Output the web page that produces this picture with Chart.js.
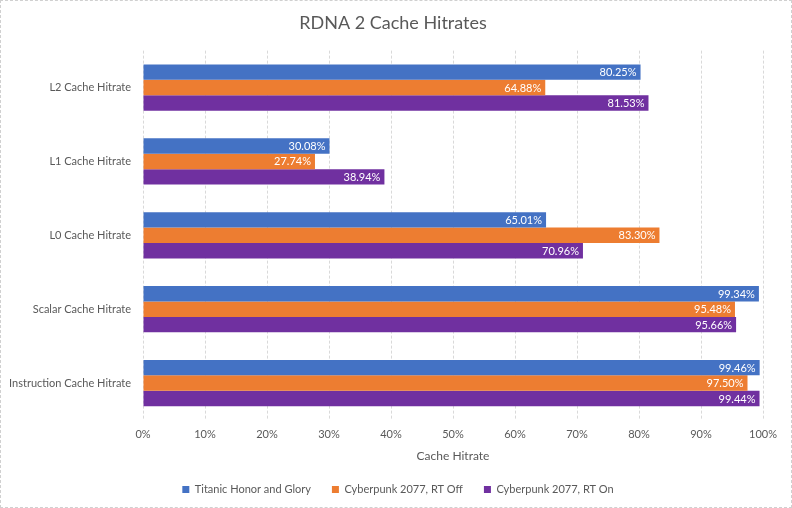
<!DOCTYPE html>
<html>
<head>
<meta charset="utf-8">
<script src="https://cdn.jsdelivr.net/npm/chart.js@4/dist/chart.umd.min.js"></script>
<style>
  html, body { margin: 0; padding: 0; background: #fff; }
  #wrap { width: 792px; height: 508px; box-sizing: border-box; border: 1px dashed #d0d0d0; position: relative; }
</style>
</head>
<body>
<div id="wrap"><canvas id="cacheChart"></canvas></div>
<script>
// Categories and series values (percent)
const categories = ["L2 Cache Hitrate", "L1 Cache Hitrate", "L0 Cache Hitrate", "Scalar Cache Hitrate", "Instruction Cache Hitrate"];
const titanicValues = [80.25, 30.08, 65.01, 99.34, 99.46];
const rtOffValues = [64.88, 27.74, 83.30, 95.48, 97.50];
const rtOnValues = [81.53, 38.94, 70.96, 95.66, 99.44];
const seriesNames = ["Titanic Honor and Glory", "Cyberpunk 2077, RT Off", "Cyberpunk 2077, RT On"];
const xTicks = [0, 10, 20, 30, 40, 50, 60, 70, 80, 90, 100];

const textColor = "#595959";
const fontFamily = "Lato, 'Open Sans', sans-serif";

// Simple plugin to print white value labels at the inner end of each bar
const barLabels = {
  id: "barLabels",
  afterDatasetsDraw(chart) {
    const ctx = chart.ctx;
    ctx.save();
    ctx.font = "11px " + fontFamily;
    ctx.fillStyle = "#ffffff";
    ctx.textAlign = "right";
    ctx.textBaseline = "middle";
    chart.data.datasets.forEach((ds, i) => {
      const meta = chart.getDatasetMeta(i);
      meta.data.forEach((bar, j) => {
        ctx.fillText(ds.data[j].toFixed(2) + "%", bar.x - 4, bar.y + 0.5);
      });
    });
    ctx.restore();
  }
};

// Nudge title and legend to be centred over the whole picture like the original
const centreBoxes = {
  id: "centreBoxes",
  afterLayout(chart) {
    if (chart.titleBlock) { chart.titleBlock.left += 11; chart.titleBlock.right += 11; }
    if (chart.legend) { chart.legend.left += 16; chart.legend.right += 16; }
  }
};

const ctx = document.getElementById("cacheChart").getContext("2d");
new Chart(ctx, {
  type: "bar",
  data: {
    labels: categories,
    datasets: [
      { label: seriesNames[0], data: titanicValues, backgroundColor: "#4472C4" },
      { label: seriesNames[1], data: rtOffValues, backgroundColor: "#ED7D31" },
      { label: seriesNames[2], data: rtOnValues, backgroundColor: "#7030A0" },
    ],
  },
  options: {
    indexAxis: "y",
    responsive: true,
    maintainAspectRatio: false,
    animation: false,
    layout: { padding: { top: 6, right: 28, bottom: 2, left: 0 } },
    datasets: { bar: { barPercentage: 1, categoryPercentage: 0.626 } },
    plugins: {
      title: {
        display: true,
        text: "RDNA 2 Cache Hitrates",
        color: textColor,
        font: { family: fontFamily, size: 18, weight: "normal" },
        padding: { top: 5, bottom: 17 },
      },
      legend: {
        position: "bottom",
        labels: {
          color: textColor,
          font: { family: fontFamily, size: 11 },
          boxWidth: 7,
          boxHeight: 7,
          padding: 21,
        },
      },
      tooltip: { enabled: false },
    },
    scales: {
      x: {
        min: 0,
        max: 100,
        afterBuildTicks: (scale) => { scale.ticks = xTicks.map(v => ({ value: v })); },
        ticks: {
          color: textColor,
          font: { family: fontFamily, size: 11 },
          padding: 8,
          callback: (v) => v + "%",
        },
        grid: { color: "#d9d9d9", drawTicks: false },
        border: { display: false, dash: [3, 2] },
        title: {
          display: true,
          text: "Cache Hitrate",
          color: textColor,
          font: { family: fontFamily, size: 12 },
          padding: { top: 4, bottom: 0 },
        },
        afterFit: (scale) => { scale.height = 43; },
      },
      y: {
        grid: { display: false },
        border: { display: false },
        ticks: {
          color: textColor,
          font: { family: fontFamily, size: 11 },
          padding: 4,
        },
        afterFit: (scale) => { scale.width = 142; },
      },
    },
  },
  plugins: [barLabels, centreBoxes],
});
</script>
</body>
</html>
